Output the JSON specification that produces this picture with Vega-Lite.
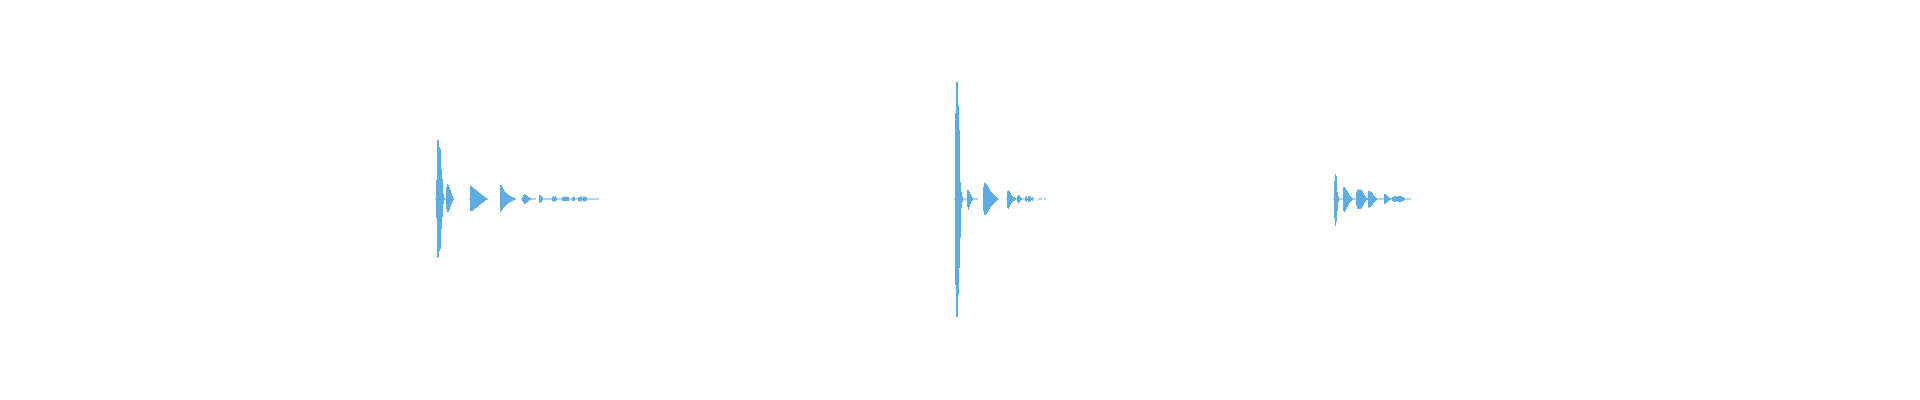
{
  "$schema": "https://vega.github.io/schema/vega-lite/v6.json",
  "autosize": {"type": "fit", "contains": "padding"},
  "width": 1920,
  "height": 400,
  "padding": 0,
  "config": {"view": {"stroke": "transparent"}},
  "data": {"values": [
    {"clip":1,"t":434,"hi":0,"lo":0},{"clip":1,"t":435,"hi":0.5,"lo":-0.5},{"clip":1,"t":436,"hi":19,"lo":-19},{"clip":1,"t":437,"hi":59,"lo":-59},{"clip":1,"t":438,"hi":59,"lo":-58},{"clip":1,"t":439,"hi":52,"lo":-52},{"clip":1,"t":440,"hi":50,"lo":-50},{"clip":1,"t":441,"hi":30,"lo":-30},{"clip":1,"t":442,"hi":20,"lo":-18},{"clip":1,"t":443,"hi":5,"lo":-5},{"clip":1,"t":444,"hi":1,"lo":-1},{"clip":1,"t":445,"hi":0.5,"lo":-0.5},{"clip":1,"t":446,"hi":12,"lo":-10},{"clip":1,"t":447,"hi":15,"lo":-13},{"clip":1,"t":448,"hi":14,"lo":-13},{"clip":1,"t":449,"hi":12,"lo":-11},{"clip":1,"t":450,"hi":9,"lo":-8},{"clip":1,"t":451,"hi":6,"lo":-5},{"clip":1,"t":452,"hi":3,"lo":-3},{"clip":1,"t":453,"hi":1,"lo":-1},{"clip":1,"t":454,"hi":0,"lo":0},
    {"clip":1,"t":468,"hi":0,"lo":0},{"clip":1,"t":469,"hi":0.5,"lo":-0.5},{"clip":1,"t":470,"hi":13,"lo":-12},{"clip":1,"t":471,"hi":13,"lo":-12},{"clip":1,"t":472,"hi":12,"lo":-12},{"clip":1,"t":473,"hi":11,"lo":-11},{"clip":1,"t":474,"hi":10,"lo":-10},{"clip":1,"t":475,"hi":9.5,"lo":-9.5},{"clip":1,"t":476,"hi":9,"lo":-9},{"clip":1,"t":477,"hi":8,"lo":-8},{"clip":1,"t":478,"hi":7,"lo":-7},{"clip":1,"t":479,"hi":6,"lo":-6},{"clip":1,"t":480,"hi":5.5,"lo":-5.5},{"clip":1,"t":481,"hi":4.5,"lo":-4.5},{"clip":1,"t":482,"hi":4,"lo":-4},{"clip":1,"t":483,"hi":3,"lo":-3},{"clip":1,"t":484,"hi":2.5,"lo":-2.5},{"clip":1,"t":485,"hi":1.5,"lo":-1.5},{"clip":1,"t":486,"hi":1,"lo":-1},{"clip":1,"t":487,"hi":0.5,"lo":-0.5},{"clip":1,"t":488,"hi":0,"lo":0},
    {"clip":1,"t":499,"hi":0,"lo":0},{"clip":1,"t":500,"hi":14,"lo":-13},{"clip":1,"t":501,"hi":14,"lo":-12},{"clip":1,"t":502,"hi":12,"lo":-11},{"clip":1,"t":503,"hi":10,"lo":-9},{"clip":1,"t":504,"hi":8,"lo":-8},{"clip":1,"t":505,"hi":7,"lo":-7},{"clip":1,"t":506,"hi":6,"lo":-6},{"clip":1,"t":507,"hi":5,"lo":-5},{"clip":1,"t":508,"hi":4,"lo":-4},{"clip":1,"t":509,"hi":3.5,"lo":-3.5},{"clip":1,"t":510,"hi":3,"lo":-3},{"clip":1,"t":511,"hi":2.5,"lo":-2.5},{"clip":1,"t":512,"hi":2,"lo":-2},{"clip":1,"t":513,"hi":1.5,"lo":-1.5},{"clip":1,"t":514,"hi":1,"lo":-1},{"clip":1,"t":515,"hi":0.5,"lo":-0.5},{"clip":1,"t":516,"hi":0,"lo":0},
    {"clip":1,"t":520,"hi":0,"lo":0},{"clip":1,"t":521,"hi":0.5,"lo":-0.5},{"clip":1,"t":522,"hi":2,"lo":-2},{"clip":1,"t":523,"hi":4,"lo":-4},{"clip":1,"t":524,"hi":5,"lo":-5},{"clip":1,"t":525,"hi":4.5,"lo":-4.5},{"clip":1,"t":526,"hi":4,"lo":-4},{"clip":1,"t":527,"hi":3,"lo":-3},{"clip":1,"t":528,"hi":2,"lo":-2},{"clip":1,"t":529,"hi":1.5,"lo":-1.5},{"clip":1,"t":530,"hi":1,"lo":-1},{"clip":1,"t":531,"hi":0.5,"lo":-0.5},{"clip":1,"t":535,"hi":0.5,"lo":-0.5},{"clip":1,"t":536,"hi":0,"lo":0},
    {"clip":1,"t":538,"hi":0,"lo":0},{"clip":1,"t":539,"hi":4,"lo":-4},{"clip":1,"t":540,"hi":4,"lo":-3.5},{"clip":1,"t":541,"hi":3,"lo":-3},{"clip":1,"t":542,"hi":1.5,"lo":-1.5},{"clip":1,"t":543,"hi":0.5,"lo":-0.5},{"clip":1,"t":551,"hi":0.5,"lo":-0.5},{"clip":1,"t":552,"hi":2,"lo":-2},{"clip":1,"t":553,"hi":3,"lo":-3},{"clip":1,"t":554,"hi":2,"lo":-2},{"clip":1,"t":555,"hi":3,"lo":-2.5},{"clip":1,"t":556,"hi":1.5,"lo":-1.5},{"clip":1,"t":557,"hi":0.5,"lo":-0.5},{"clip":1,"t":561,"hi":0.5,"lo":-0.5},{"clip":1,"t":562,"hi":2,"lo":-2},{"clip":1,"t":564,"hi":2.5,"lo":-2},{"clip":1,"t":566,"hi":2,"lo":-2},{"clip":1,"t":568,"hi":2,"lo":-2},{"clip":1,"t":569,"hi":0.5,"lo":-0.5},{"clip":1,"t":572,"hi":1.5,"lo":-1.5},{"clip":1,"t":573,"hi":2.5,"lo":-2},{"clip":1,"t":574,"hi":2,"lo":-2},{"clip":1,"t":575,"hi":0.5,"lo":-0.5},{"clip":1,"t":578,"hi":2,"lo":-2},{"clip":1,"t":580,"hi":2.5,"lo":-2.5},{"clip":1,"t":582,"hi":1,"lo":-1},{"clip":1,"t":583,"hi":2.5,"lo":-2.5},{"clip":1,"t":585,"hi":2,"lo":-2},{"clip":1,"t":587,"hi":0.5,"lo":-0.5},{"clip":1,"t":598,"hi":0.5,"lo":-0.5},{"clip":1,"t":599,"hi":0,"lo":0},

    {"clip":2,"t":953,"hi":0,"lo":0},{"clip":2,"t":954,"hi":0.5,"lo":-0.5},{"clip":2,"t":955,"hi":86,"lo":-86},{"clip":2,"t":956,"hi":117,"lo":-118},{"clip":2,"t":957,"hi":117,"lo":-118},{"clip":2,"t":958,"hi":94,"lo":-96},{"clip":2,"t":959,"hi":69,"lo":-69},{"clip":2,"t":960,"hi":17,"lo":-39},{"clip":2,"t":961,"hi":7,"lo":-9},{"clip":2,"t":962,"hi":3,"lo":-3},{"clip":2,"t":963,"hi":0.5,"lo":-0.5},{"clip":2,"t":966,"hi":0.5,"lo":-0.5},{"clip":2,"t":967,"hi":9,"lo":-8},{"clip":2,"t":968,"hi":9,"lo":-11},{"clip":2,"t":969,"hi":7,"lo":-8},{"clip":2,"t":970,"hi":5,"lo":-5},{"clip":2,"t":971,"hi":3,"lo":-3},{"clip":2,"t":972,"hi":1.5,"lo":-1.5},{"clip":2,"t":973,"hi":0.5,"lo":-0.5},{"clip":2,"t":977,"hi":0.5,"lo":-0.5},{"clip":2,"t":978,"hi":0,"lo":0},
    {"clip":2,"t":982,"hi":0,"lo":0},{"clip":2,"t":983,"hi":12,"lo":-12},{"clip":2,"t":984,"hi":16,"lo":-16},{"clip":2,"t":985,"hi":16,"lo":-16},{"clip":2,"t":986,"hi":15,"lo":-15},{"clip":2,"t":987,"hi":13.5,"lo":-13.5},{"clip":2,"t":988,"hi":12,"lo":-12},{"clip":2,"t":989,"hi":10,"lo":-10},{"clip":2,"t":990,"hi":8,"lo":-8},{"clip":2,"t":991,"hi":7,"lo":-7},{"clip":2,"t":992,"hi":6,"lo":-6},{"clip":2,"t":993,"hi":5,"lo":-5},{"clip":2,"t":994,"hi":4,"lo":-4},{"clip":2,"t":995,"hi":3,"lo":-3},{"clip":2,"t":996,"hi":2,"lo":-2},{"clip":2,"t":997,"hi":1,"lo":-1},{"clip":2,"t":998,"hi":0.5,"lo":-0.5},{"clip":2,"t":999,"hi":0,"lo":0},
    {"clip":2,"t":1005,"hi":0,"lo":0},{"clip":2,"t":1006,"hi":0.5,"lo":-0.5},{"clip":2,"t":1007,"hi":8,"lo":-9},{"clip":2,"t":1008,"hi":8.5,"lo":-10},{"clip":2,"t":1009,"hi":8,"lo":-8},{"clip":2,"t":1010,"hi":6,"lo":-6},{"clip":2,"t":1011,"hi":4,"lo":-4},{"clip":2,"t":1012,"hi":3,"lo":-3},{"clip":2,"t":1013,"hi":2,"lo":-2},{"clip":2,"t":1014,"hi":2,"lo":-2},{"clip":2,"t":1015,"hi":1,"lo":-1},{"clip":2,"t":1016,"hi":0.5,"lo":-0.5},{"clip":2,"t":1017,"hi":3,"lo":-3},{"clip":2,"t":1018,"hi":4,"lo":-4},{"clip":2,"t":1019,"hi":3.5,"lo":-3.5},{"clip":2,"t":1020,"hi":2,"lo":-2},{"clip":2,"t":1021,"hi":1,"lo":-1},{"clip":2,"t":1022,"hi":0.5,"lo":-0.5},{"clip":2,"t":1024,"hi":0.5,"lo":-0.5},{"clip":2,"t":1025,"hi":2,"lo":-2},{"clip":2,"t":1026,"hi":3,"lo":-3},{"clip":2,"t":1027,"hi":1,"lo":-1},{"clip":2,"t":1028,"hi":3,"lo":-3},{"clip":2,"t":1030,"hi":2.5,"lo":-2.5},{"clip":2,"t":1031,"hi":1,"lo":-1},{"clip":2,"t":1032,"hi":2,"lo":-2},{"clip":2,"t":1033,"hi":0.5,"lo":-0.5},{"clip":2,"t":1034,"hi":0,"lo":0},
    {"clip":2,"t":1037,"hi":0,"lo":0},{"clip":2,"t":1038,"hi":0.5,"lo":-0.5},{"clip":2,"t":1042,"hi":0,"lo":0},{"clip":2,"t":1044,"hi":0.5,"lo":-0.5},{"clip":2,"t":1046,"hi":0,"lo":0},

    {"clip":3,"t":1332,"hi":0,"lo":0},{"clip":3,"t":1333,"hi":0.5,"lo":-0.5},{"clip":3,"t":1334,"hi":18,"lo":-19},{"clip":3,"t":1335,"hi":25,"lo":-27},{"clip":3,"t":1336,"hi":23,"lo":-23},{"clip":3,"t":1337,"hi":7,"lo":-12},{"clip":3,"t":1338,"hi":3,"lo":-3},{"clip":3,"t":1339,"hi":0.5,"lo":-0.5},{"clip":3,"t":1342,"hi":0.5,"lo":-0.5},{"clip":3,"t":1343,"hi":12,"lo":-12},{"clip":3,"t":1344,"hi":12,"lo":-13},{"clip":3,"t":1345,"hi":11,"lo":-12},{"clip":3,"t":1346,"hi":9,"lo":-10},{"clip":3,"t":1347,"hi":8,"lo":-8},{"clip":3,"t":1348,"hi":6,"lo":-6},{"clip":3,"t":1349,"hi":4,"lo":-4},{"clip":3,"t":1350,"hi":3,"lo":-3},{"clip":3,"t":1351,"hi":2,"lo":-2},{"clip":3,"t":1352,"hi":1,"lo":-1},{"clip":3,"t":1353,"hi":0.5,"lo":-0.5},{"clip":3,"t":1355,"hi":0.5,"lo":-0.5},{"clip":3,"t":1356,"hi":7,"lo":-7},{"clip":3,"t":1357,"hi":9.5,"lo":-10},{"clip":3,"t":1358,"hi":9.5,"lo":-10},{"clip":3,"t":1359,"hi":9.5,"lo":-10},{"clip":3,"t":1360,"hi":9.5,"lo":-10},{"clip":3,"t":1361,"hi":9,"lo":-9.5},{"clip":3,"t":1362,"hi":8,"lo":-8},{"clip":3,"t":1363,"hi":6,"lo":-6},{"clip":3,"t":1364,"hi":4,"lo":-4},{"clip":3,"t":1365,"hi":3,"lo":-3},{"clip":3,"t":1366,"hi":1.5,"lo":-1.5},{"clip":3,"t":1367,"hi":1,"lo":-1},{"clip":3,"t":1368,"hi":8,"lo":-8.5},{"clip":3,"t":1369,"hi":8,"lo":-8.5},{"clip":3,"t":1370,"hi":7.5,"lo":-8},{"clip":3,"t":1371,"hi":7,"lo":-7},{"clip":3,"t":1372,"hi":6,"lo":-6},{"clip":3,"t":1373,"hi":4,"lo":-4},{"clip":3,"t":1374,"hi":3,"lo":-3},{"clip":3,"t":1375,"hi":2,"lo":-2},{"clip":3,"t":1376,"hi":1,"lo":-1},{"clip":3,"t":1377,"hi":0.5,"lo":-0.5},{"clip":3,"t":1383,"hi":0.5,"lo":-0.5},{"clip":3,"t":1384,"hi":5,"lo":-5},{"clip":3,"t":1385,"hi":5,"lo":-5},{"clip":3,"t":1386,"hi":4,"lo":-4},{"clip":3,"t":1387,"hi":3,"lo":-3},{"clip":3,"t":1388,"hi":2,"lo":-2},{"clip":3,"t":1389,"hi":1.5,"lo":-1.5},{"clip":3,"t":1390,"hi":1,"lo":-1},{"clip":3,"t":1391,"hi":0.5,"lo":-0.5},{"clip":3,"t":1392,"hi":2,"lo":-2},{"clip":3,"t":1394,"hi":3,"lo":-3},{"clip":3,"t":1396,"hi":2.5,"lo":-2.5},{"clip":3,"t":1398,"hi":3,"lo":-3},{"clip":3,"t":1400,"hi":3,"lo":-3},{"clip":3,"t":1402,"hi":2,"lo":-2},{"clip":3,"t":1404,"hi":1,"lo":-1},{"clip":3,"t":1405,"hi":0.5,"lo":-0.5},{"clip":3,"t":1410,"hi":0.5,"lo":-0.5},{"clip":3,"t":1411,"hi":0,"lo":0}
  ]},
  "mark": {"type": "area", "color": "#5DADE2", "interpolate": "step-after"},
  "encoding": {
    "x": {"field": "t", "type": "quantitative", "scale": {"domain": [0, 1920]}, "axis": null},
    "y": {"field": "hi", "type": "quantitative", "scale": {"domain": [-201, 199]}, "axis": null},
    "y2": {"field": "lo"},
    "detail": {"field": "clip", "type": "nominal"}
  }
}
